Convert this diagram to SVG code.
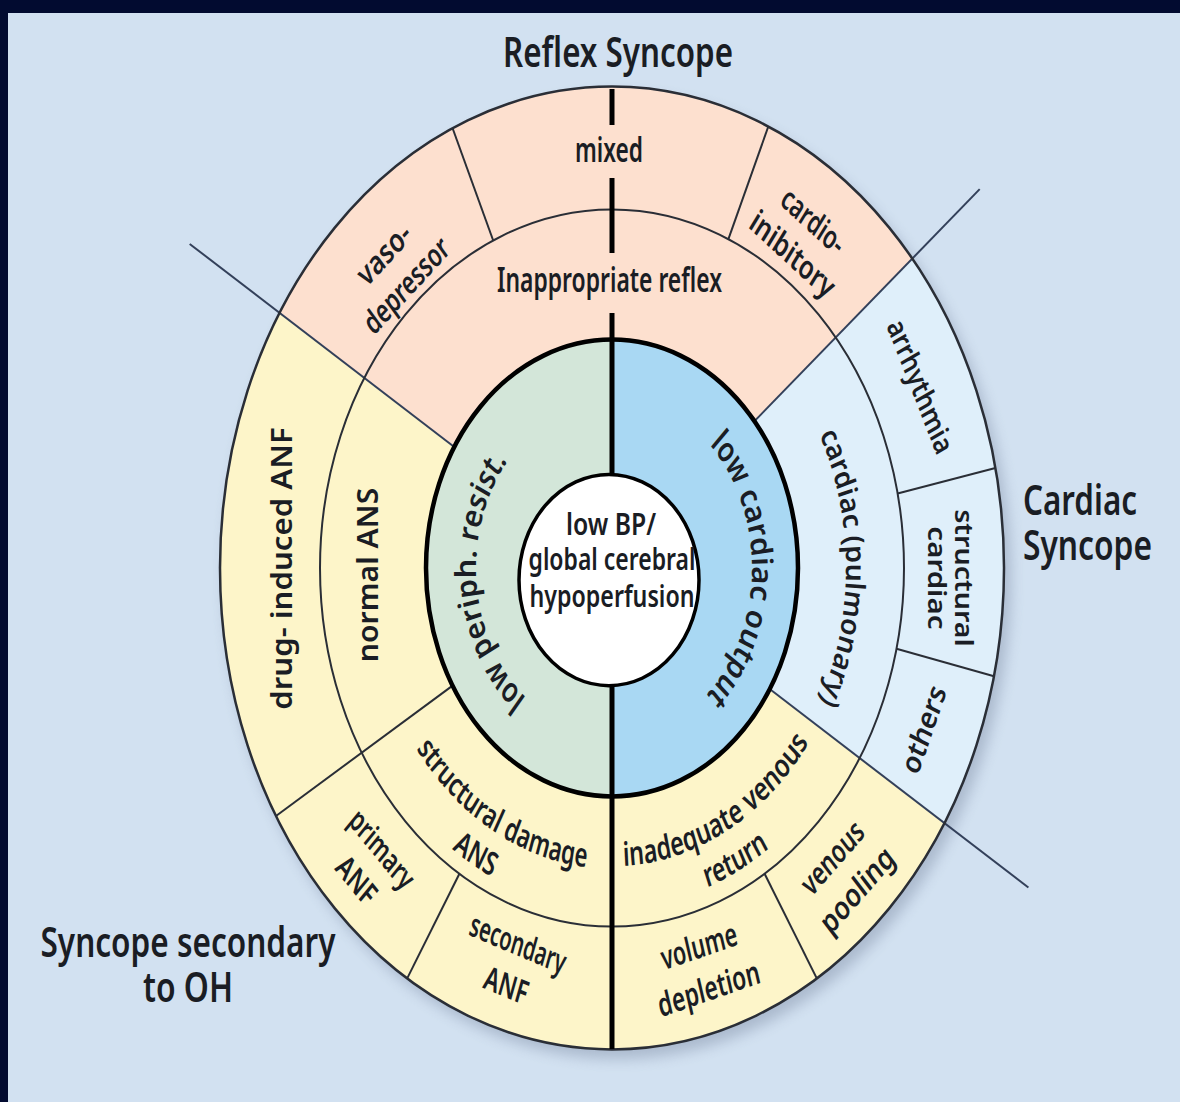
<svg xmlns="http://www.w3.org/2000/svg" width="1180" height="1102" viewBox="0 0 1180 1102">
  <defs>
    <filter id="soft" x="-10%" y="-10%" width="120%" height="120%">
      <feGaussianBlur stdDeviation="7"/>
    </filter>
    <!-- arcs used as text baselines (circle space, centre 0,0) -->
    <path id="arcCard" d="M0 -234 A234 234 0 0 1 0 234"/>
    <path id="arcCO" d="M0 -140 A140 140 0 0 1 0 140"/>
    <path id="arcPR" d="M0 136 A136 136 0 0 1 0 -136"/>
    <path id="arcSD1" d="M-245 0 A245 245 0 0 0 245 0"/>
    <path id="arcSD2" d="M-279 0 A279 279 0 0 0 279 0"/>
    <path id="arcIV1" d="M-243 0 A243 243 0 0 0 243 0"/>
    <path id="arcIV2" d="M-277 0 A277 277 0 0 0 277 0"/>
  </defs>
  <style>
    .t{font-family:"Noto Sans","Open Sans","Liberation Sans",sans-serif;font-weight:600;fill:#1a1d24}
    .ring{font-size:27px}
    .title{font-size:34px}
    .ln{fill:none;stroke:#2a2e36;stroke-width:2;vector-effect:non-scaling-stroke}
    .ext{fill:none;stroke:#33405a;stroke-width:2;vector-effect:non-scaling-stroke}
    .pink{fill:#fde0cf}
    .yellow{fill:#fdf5c9}
    .cardiac{fill:#dfeffa}
    .green{fill:#d3e6d9}
    .blue{fill:#a9d8f3}
  </style>

  <!-- page -->
  <rect x="0" y="0" width="1180" height="1102" fill="#020b30"/>
  <rect x="8" y="13" width="1172" height="1089" fill="#d2e1f1"/>

  <!-- drop shadow under the disc -->
  <ellipse cx="618" cy="577" rx="393" ry="482" fill="#7b8aa3" opacity="0.45" filter="url(#soft)"/>

  <!-- disc: drawn as a circle, stretched vertically -->
  <g id="disc" transform="translate(612 568) scale(1 1.228)">
    <g id="sectors">
      <circle class="yellow" r="392"/>
      <path id="reflex-sector" class="pink" d="M0 0 L-332.4 -207.7 A392 392 0 0 1 300.3 -252 Z"/>
      <path id="cardiac-sector" class="cardiac" d="M0 0 L300.3 -252 A392 392 0 0 1 332.4 207.7 Z"/>
      <circle id="periph" class="green" r="186"/>
      <path id="output" class="blue" d="M0 -186 A186 186 0 0 1 0 186 Z"/>
    </g>
    <g id="dividers">
      <!-- main boundaries, continuing outside the disc -->
      <path class="ext" d="M-157.7 -98.6 L-422.3 -263.9"/>
      <path class="ext" d="M142.5 -119.6 L367.7 -308.5"/>
      <path class="ext" d="M157.7 98.6 L416.4 260.2"/>
      <!-- inner subdivisions -->
      <path class="ln" d="M-159.4 95.8 L-336 201.9"/>
      <path class="ln" d="M-152.6 249 L-204.8 334.2"/>
      <path class="ln" d="M152.6 249 L204.8 334.2"/>
      <path class="ln" d="M285.6 -60.7 L383.4 -81.5"/>
      <path class="ln" d="M284.5 65.7 L382 88.2"/>
      <path class="ln" d="M-118.8 -266.7 L-159.4 -358.1"/>
      <path class="ln" d="M116.4 -267.8 L156.3 -359.5"/>
    </g>
    <g id="rings">
      <circle class="ln" r="392" style="stroke-width:2.5"/>
      <circle class="ln" r="292"/>
      <circle r="186" fill="none" stroke="#000" stroke-width="4.5" vector-effect="non-scaling-stroke"/>
    </g>
  </g>

  <!-- vertical axis splitting the disc -->
  <g id="axis">
    <path d="M612 89V125M612 178V253M612 313V1049" stroke="#000" stroke-width="5" fill="none"/>
  </g>

  <g id="labels" transform="translate(612 568) scale(1 1.228)">
    <!-- centre -->
    <g id="centre">
      <ellipse cx="-3" cy="9.8" rx="90" ry="86" fill="#fff" stroke="#000" stroke-width="3.5" vector-effect="non-scaling-stroke"/>
      <text class="t" font-size="25" text-anchor="middle" x="-1" y="-26.9" textLength="90" lengthAdjust="spacingAndGlyphs">low BP/</text>
      <text class="t" font-size="25" text-anchor="middle" x="0" y="1.6" textLength="167" lengthAdjust="spacingAndGlyphs">global cerebral</text>
      <text class="t" font-size="25" text-anchor="middle" x="0" y="31.8" textLength="165" lengthAdjust="spacingAndGlyphs">hypoperfusion</text>
    </g>

    <!-- group titles -->
    <text id="title-reflex" class="t title" text-anchor="middle" x="6" y="-408" textLength="230" lengthAdjust="spacingAndGlyphs">Reflex Syncope</text>
    <g id="title-cardiac">
      <text class="t title" x="411" y="-43.2" textLength="114" lengthAdjust="spacingAndGlyphs">Cardiac</text>
      <text class="t title" x="411" y="-6.5" textLength="129" lengthAdjust="spacingAndGlyphs">Syncope</text>
    </g>
    <g id="title-oh">
      <text class="t title" text-anchor="middle" x="-424" y="316.8" textLength="295" lengthAdjust="spacingAndGlyphs">Syncope secondary</text>
      <text class="t title" text-anchor="middle" x="-424" y="353.4" textLength="90" lengthAdjust="spacingAndGlyphs">to OH</text>
    </g>

    <!-- reflex syncope -->
    <text id="mixed" class="t" text-anchor="middle" x="-3" y="-330.6" font-size="28" textLength="68" lengthAdjust="spacingAndGlyphs">mixed</text>
    <text id="inappropriate" class="t" text-anchor="middle" x="-2.5" y="-224.8" font-size="28" textLength="225" lengthAdjust="spacingAndGlyphs">Inappropriate reflex</text>
    <g id="vasodepressor" transform="translate(-216 -242) rotate(-41.5)">
      <text class="t ring" text-anchor="middle" y="-9" textLength="62" lengthAdjust="spacingAndGlyphs">vaso-</text>
      <text class="t ring" text-anchor="middle" y="25" textLength="104" lengthAdjust="spacingAndGlyphs">depressor</text>
    </g>
    <g id="cardioinhibitory" transform="translate(190 -268) rotate(37)">
      <text class="t ring" text-anchor="middle" y="-9" textLength="72" lengthAdjust="spacingAndGlyphs">cardio-</text>
      <text class="t ring" text-anchor="middle" y="25" textLength="99" lengthAdjust="spacingAndGlyphs">inibitory</text>
    </g>

    <!-- cardiac syncope -->
    <text id="arrhythmia" class="t ring" text-anchor="middle" transform="translate(307 -147.4) rotate(64.4)" y="8" textLength="118" lengthAdjust="spacingAndGlyphs">arrhythmia</text>
    <g id="structural-cardiac" transform="translate(338 8.1) rotate(90)">
      <text class="t" font-size="26" text-anchor="middle" y="-5" textLength="112" lengthAdjust="spacingAndGlyphs">structural</text>
      <text class="t" font-size="26" text-anchor="middle" y="22" textLength="84" lengthAdjust="spacingAndGlyphs">cardiac</text>
    </g>
    <text id="others" class="t ring" text-anchor="middle" transform="translate(313 131.9) rotate(-67.15)" y="8" textLength="75" lengthAdjust="spacingAndGlyphs">others</text>
    <text id="pulmonary" class="t ring" text-anchor="middle"><textPath href="#arcCard" startOffset="50%" textLength="225" lengthAdjust="spacingAndGlyphs">cardiac (pulmonary)</textPath></text>
    <text id="low-output" class="t" font-size="29" text-anchor="middle"><textPath href="#arcCO" startOffset="50.5%" textLength="228" lengthAdjust="spacingAndGlyphs">low cardiac output</textPath></text>

    <!-- syncope secondary to orthostatic hypotension -->
    <text id="low-periph" class="t" font-size="29" text-anchor="middle"><textPath href="#arcPR" startOffset="46.9%" textLength="215" lengthAdjust="spacingAndGlyphs">low periph. resist.</textPath></text>
    <text id="drug-anf" class="t" font-size="29" text-anchor="middle" transform="translate(-320 0.4) rotate(-90)" textLength="230" lengthAdjust="spacingAndGlyphs">drug- induced ANF</text>
    <text id="normal-ans" class="t" font-size="29" text-anchor="middle" transform="translate(-234 5.7) rotate(-90)" textLength="142" lengthAdjust="spacingAndGlyphs">normal ANS</text>
    <g id="structural-damage">
      <text class="t ring" text-anchor="middle"><textPath href="#arcSD1" startOffset="33.6%" textLength="201" lengthAdjust="spacingAndGlyphs">structural damage</textPath></text>
      <text class="t ring" text-anchor="middle"><textPath href="#arcSD2" startOffset="33.2%" textLength="46" lengthAdjust="spacingAndGlyphs">ANS</textPath></text>
    </g>
    <g id="primary-anf" transform="translate(-243 241.9) rotate(45.1)">
      <text class="t ring" text-anchor="middle" y="-9" textLength="80" lengthAdjust="spacingAndGlyphs">primary</text>
      <text class="t ring" text-anchor="middle" y="27" textLength="45" lengthAdjust="spacingAndGlyphs">ANF</text>
    </g>
    <g id="secondary-anf" transform="translate(-100 323.3) rotate(19)">
      <text class="t ring" text-anchor="middle" y="-9" textLength="100" lengthAdjust="spacingAndGlyphs">secondary</text>
      <text class="t ring" text-anchor="middle" y="27" textLength="45" lengthAdjust="spacingAndGlyphs">ANF</text>
    </g>
    <g id="venous-return">
      <text class="t ring" text-anchor="middle"><textPath href="#arcIV1" startOffset="65.8%" textLength="218" lengthAdjust="spacingAndGlyphs">inadequate venous</textPath></text>
      <text class="t ring" text-anchor="middle"><textPath href="#arcIV2" startOffset="65.2%" textLength="70" lengthAdjust="spacingAndGlyphs">return</textPath></text>
    </g>
    <g id="volume-depletion" transform="translate(92 325.7) rotate(-15.8)">
      <text class="t ring" text-anchor="middle" y="-9" textLength="78" lengthAdjust="spacingAndGlyphs">volume</text>
      <text class="t ring" text-anchor="middle" y="27" textLength="105" lengthAdjust="spacingAndGlyphs">depletion</text>
    </g>
    <g id="venous-pooling" transform="translate(233 249.2) rotate(-43.1)">
      <text class="t ring" text-anchor="middle" y="-9" textLength="75" lengthAdjust="spacingAndGlyphs">venous</text>
      <text class="t ring" text-anchor="middle" y="27" textLength="90" lengthAdjust="spacingAndGlyphs">pooling</text>
    </g>
  </g>
</svg>
